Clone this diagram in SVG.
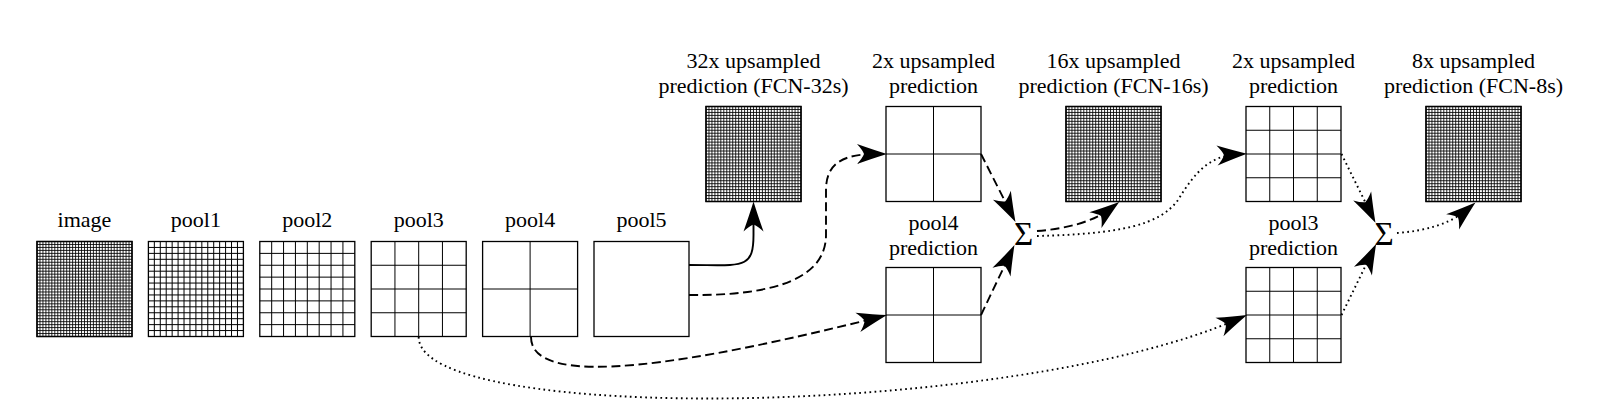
<svg xmlns="http://www.w3.org/2000/svg" xmlns:xlink="http://www.w3.org/1999/xlink" width="1608" height="404" viewBox="0 0 1608 404">
<style>
text{font-family:"Liberation Serif","Times New Roman",serif;font-size:22px;fill:#000;text-anchor:middle}
.sum{font-size:33px}
.box{fill:#fff;stroke:#000;stroke-width:1.3}
.g{fill:none;stroke:#000;stroke-width:1}
.gf{fill:none;stroke:#000;stroke-width:0.85}
.c{fill:none;stroke:#000;stroke-width:1.9}
.dash{stroke-dasharray:9 4.5}
.dot{stroke-dasharray:1.7 3.4}
</style>
<defs>
<marker id="ah" viewBox="-32 -12 36 24" refX="-10" refY="0" markerWidth="36" markerHeight="24" markerUnits="userSpaceOnUse" orient="auto">
<path d="M1,0 Q-12,-4 -29,-10 Q-23.5,-4 -22,0 Q-23.5,4 -29,10 Q-12,4 1,0Z" fill="#000" stroke="none"/>
</marker>
<g id="g1"><rect class="box" width="95" height="95"/></g>
<g id="g2"><rect class="box" width="95" height="95"/><path class="g" d="M47.5,0v95M0,47.5h95"/></g>
<g id="g4"><rect class="box" width="95" height="95"/><path class="g" d="M23.75,0v95M47.5,0v95M71.25,0v95M0,23.75h95M0,47.5h95M0,71.25h95"/></g>
<g id="g8"><rect class="box" width="95" height="95"/><path class="g" d="M11.88,0v95M23.75,0v95M35.63,0v95M47.5,0v95M59.38,0v95M71.25,0v95M83.13,0v95M0,11.88h95M0,23.75h95M0,35.63h95M0,47.5h95M0,59.38h95M0,71.25h95M0,83.13h95"/></g>
<g id="g16"><rect class="box" width="95" height="95"/><path class="g" d="M5.94,0v95M11.88,0v95M17.81,0v95M23.75,0v95M29.69,0v95M35.63,0v95M41.56,0v95M47.5,0v95M53.44,0v95M59.38,0v95M65.31,0v95M71.25,0v95M77.19,0v95M83.13,0v95M89.06,0v95M0,5.94h95M0,11.88h95M0,17.81h95M0,23.75h95M0,29.69h95M0,35.63h95M0,41.56h95M0,47.5h95M0,53.44h95M0,59.38h95M0,65.31h95M0,71.25h95M0,77.19h95M0,83.13h95M0,89.06h95"/></g>
<g id="g32"><rect class="box" width="95" height="95"/><path class="gf" d="M2.97,0v95M5.94,0v95M8.91,0v95M11.88,0v95M14.84,0v95M17.81,0v95M20.78,0v95M23.75,0v95M26.72,0v95M29.69,0v95M32.66,0v95M35.63,0v95M38.59,0v95M41.56,0v95M44.53,0v95M47.5,0v95M50.47,0v95M53.44,0v95M56.41,0v95M59.38,0v95M62.34,0v95M65.31,0v95M68.28,0v95M71.25,0v95M74.22,0v95M77.19,0v95M80.16,0v95M83.13,0v95M86.09,0v95M89.06,0v95M92.03,0v95M0,2.97h95M0,5.94h95M0,8.91h95M0,11.88h95M0,14.84h95M0,17.81h95M0,20.78h95M0,23.75h95M0,26.72h95M0,29.69h95M0,32.66h95M0,35.63h95M0,38.59h95M0,41.56h95M0,44.53h95M0,47.5h95M0,50.47h95M0,53.44h95M0,56.41h95M0,59.38h95M0,62.34h95M0,65.31h95M0,68.28h95M0,71.25h95M0,74.22h95M0,77.19h95M0,80.16h95M0,83.13h95M0,86.09h95M0,89.06h95M0,92.03h95"/><rect width="95" height="95" style="fill:none;stroke:#000;stroke-width:1.3"/></g>
</defs>
<rect width="1608" height="404" fill="#fff"/>

<g id="image"><text x="84.5" y="227.3">image</text><use xlink:href="#g32" x="37" y="241.5"/></g>
<g id="pool1"><text x="195.9" y="227.3">pool1</text><use xlink:href="#g16" x="148.4" y="241.5"/></g>
<g id="pool2"><text x="307.3" y="227.3">pool2</text><use xlink:href="#g8" x="259.8" y="241.5"/></g>
<g id="pool3"><text x="418.7" y="227.3">pool3</text><use xlink:href="#g4" x="371.2" y="241.5"/></g>
<g id="pool4"><text x="530.1" y="227.3">pool4</text><use xlink:href="#g2" x="482.6" y="241.5"/></g>
<g id="pool5"><text x="641.5" y="227.3">pool5</text><use xlink:href="#g1" x="594" y="241.5"/></g>

<g id="fcn32"><text x="753.5" y="67.7">32x upsampled</text><text x="753.5" y="93.3">prediction (FCN-32s)</text><use xlink:href="#g32" x="706" y="106.5"/></g>
<g id="up2a"><text x="933.5" y="67.7">2x upsampled</text><text x="933.5" y="93.3">prediction</text><use xlink:href="#g2" x="886" y="106.5"/></g>
<g id="pool4pred"><text x="933.5" y="229.5">pool4</text><text x="933.5" y="254.5">prediction</text><use xlink:href="#g2" x="886" y="267.5"/></g>
<g id="sum1"><text class="sum" x="1023.5" y="245">Σ</text></g>
<g id="fcn16"><text x="1113.5" y="67.7">16x upsampled</text><text x="1113.5" y="93.3">prediction (FCN-16s)</text><use xlink:href="#g32" x="1066" y="106.5"/></g>
<g id="up2b"><text x="1293.5" y="67.7">2x upsampled</text><text x="1293.5" y="93.3">prediction</text><use xlink:href="#g4" x="1246" y="106.5"/></g>
<g id="pool3pred"><text x="1293.5" y="229.5">pool3</text><text x="1293.5" y="254.5">prediction</text><use xlink:href="#g4" x="1246" y="267.5"/></g>
<g id="sum2"><text class="sum" x="1384" y="245">Σ</text></g>
<g id="fcn8"><text x="1473.5" y="67.7">8x upsampled</text><text x="1473.5" y="93.3">prediction (FCN-8s)</text><use xlink:href="#g32" x="1426" y="106.5"/></g>

<g id="connectors">
<path class="c" marker-end="url(#ah)" d="M689,265 C742,265 753.5,270 753.5,235 L753.5,212.5"/>
<path class="c dash" marker-end="url(#ah)" d="M689,295 C780,296 826,276 826,235 L826,190 C826,162 845,154 876,154"/>
<path class="c dash" marker-end="url(#ah)" d="M531,337 C531,392 700,362 876.3,317.8"/>
<path class="c dot" marker-end="url(#ah)" d="M418.7,337 C418.7,425 1010,418 1236.9,319.4"/>
<path class="c dash" marker-end="url(#ah)" d="M981,154 L1010.5,212.1"/>
<path class="c dash" marker-end="url(#ah)" d="M981,315 L1009.7,255"/>
<path class="c dash" marker-end="url(#ah)" d="M1037,231 C1065,229 1093,222 1110.5,208.6"/>
<path class="c dot" marker-end="url(#ah)" d="M1037,236 C1120,234 1160,225 1178,200 C1195,172 1210,156 1236,154.5"/>
<path class="c dot" marker-end="url(#ah)" d="M1341.5,154 L1370.6,213"/>
<path class="c dot" marker-end="url(#ah)" d="M1341.5,315 L1371.3,254"/>
<path class="c dot" marker-end="url(#ah)" d="M1397,233 C1425,231 1450,224 1467.1,209.5"/>
</g>
</svg>
